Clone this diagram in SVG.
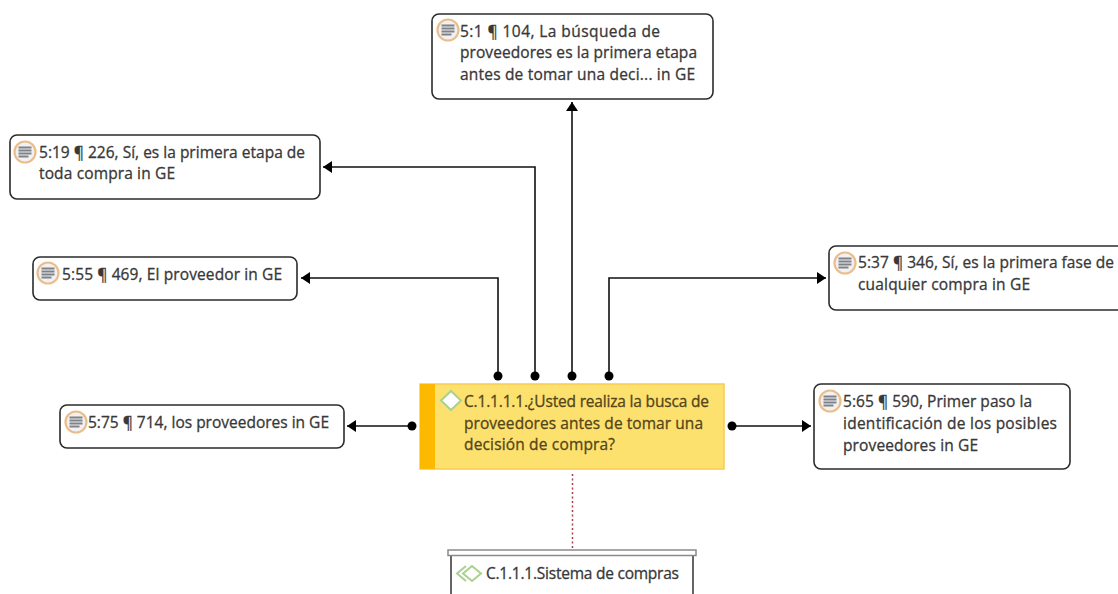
<svg xmlns="http://www.w3.org/2000/svg" width="1118" height="594" viewBox="0 0 1118 594">
<style>
.box{fill:#fff;stroke:#2b2b2b;stroke-width:1.6}
text{font-family:"Open Sans","Noto Sans","Liberation Sans",sans-serif;font-size:15.5px;font-weight:500;fill:#383838;stroke:#383838;stroke-width:.3}
text.code{fill:#54451a;stroke:#54451a}
.c{fill:none;stroke:#111;stroke-width:1.6}
.ring{fill:#f1f1f1;stroke:#ecbd8c;stroke-width:2.200}
.ln{stroke:#7f8288;stroke-width:1.800}
</style>
<defs>
<marker id="arrow" markerUnits="userSpaceOnUse" markerWidth="10" markerHeight="12" refX="9" refY="6" orient="auto"><path d="M0 0L9 6L0 12z" fill="#000"/></marker>
<g id="doc"><circle cx="0" cy="0" r="10.500" class="ring"/><path class="ln" d="M-6.500 -4.500H6.500M-6.500 -1.500H6.500M-6.500 1.500H6.500M-6.500 4.500H3.500"/></g>
</defs>
<g id="connectors">
<path class="c" d="M572 376V102" marker-end="url(#arrow)"/>
<path class="c" d="M535 376V167H323" marker-end="url(#arrow)"/>
<path class="c" d="M498 376V278H301" marker-end="url(#arrow)"/>
<path class="c" d="M609 376V278H826" marker-end="url(#arrow)"/>
<path class="c" d="M412 426H347" marker-end="url(#arrow)"/>
<path class="c" d="M732 426H811" marker-end="url(#arrow)"/>
<path d="M572.500 474V548" fill="none" stroke="#a8404c" stroke-width="1.500" stroke-dasharray="2 2.500"/>
<g fill="#000"><circle cx="498" cy="376" r="4.500"/><circle cx="535" cy="376" r="4.500"/><circle cx="572" cy="376" r="4.500"/><circle cx="609" cy="376" r="4.500"/><circle cx="412" cy="426" r="4.500"/><circle cx="732" cy="426" r="4.500"/></g>
</g>
<g id="n1"><rect class="box" x="432" y="14" width="281" height="85" rx="7"/><use href="#doc" x="448" y="30"/><text x="460" y="37" textLength="200">5:1 ¶ 104, La búsqueda de</text><text x="460" y="58" textLength="237">proveedores es la primera etapa</text><text x="460" y="80" textLength="235">antes de tomar una deci... in GE</text></g>
<g id="n2"><rect class="box" x="10" y="135" width="310" height="64" rx="7"/><use href="#doc" x="25" y="152"/><text x="39" y="158" textLength="266">5:19 ¶ 226, Sí, es la primera etapa de</text><text x="39" y="179" textLength="136">toda compra in GE</text></g>
<g id="n3"><rect class="box" x="33" y="257" width="264" height="43" rx="7"/><use href="#doc" x="48" y="273"/><text x="62" y="280" textLength="220">5:55 ¶ 469, El proveedor in GE</text></g>
<g id="n4"><rect class="box" x="829" y="246" width="295" height="64" rx="7"/><use href="#doc" x="845" y="263"/><text x="858" y="268" textLength="256">5:37 ¶ 346, Sí, es la primera fase de</text><text x="858" y="290" textLength="172">cualquier compra in GE</text></g>
<g id="n5"><rect class="box" x="60" y="405" width="284" height="43" rx="7"/><use href="#doc" x="76" y="422"/><text x="88" y="428" textLength="241">5:75 ¶ 714, los proveedores in GE</text></g>
<g id="n6"><rect class="box" x="814" y="384" width="256" height="85" rx="7"/><use href="#doc" x="830" y="401"/><text x="843" y="407" textLength="189">5:65 ¶ 590, Primer paso la</text><text x="843" y="429" textLength="214">identificación de los posibles</text><text x="843" y="451" textLength="135">proveedores in GE</text></g>
<g id="center"><rect x="420" y="384" width="304" height="85" fill="#fde16f" stroke="#f6cb52" stroke-width="1.500"/><rect x="420" y="384" width="15" height="85" fill="#fdb900"/><path d="M451 391L461 400.500L451 410L441 400.500z" fill="#fff" stroke="#a9d18e" stroke-width="2"/><text class="code" x="464" y="407" textLength="245">C.1.1.1.1.¿Usted realiza la busca de</text><text class="code" x="464" y="429" textLength="239">proveedores antes de tomar una</text><text class="code" x="464" y="450" textLength="151">decisión de compra?</text></g>
<g id="group"><path d="M451 554V594M693 554V594" stroke="#333" stroke-width="1.500" fill="none"/><rect x="448" y="550" width="248" height="5.500" fill="#fff" stroke="#8a8a8a" stroke-width="1.500"/><path d="M466 566L457 573.500L466 581M472 566L463 573.500L472 581L481 573.500z" fill="none" stroke="#a9d18e" stroke-width="2"/><text x="486" y="579" textLength="193">C.1.1.1.Sistema de compras</text></g>
</svg>
